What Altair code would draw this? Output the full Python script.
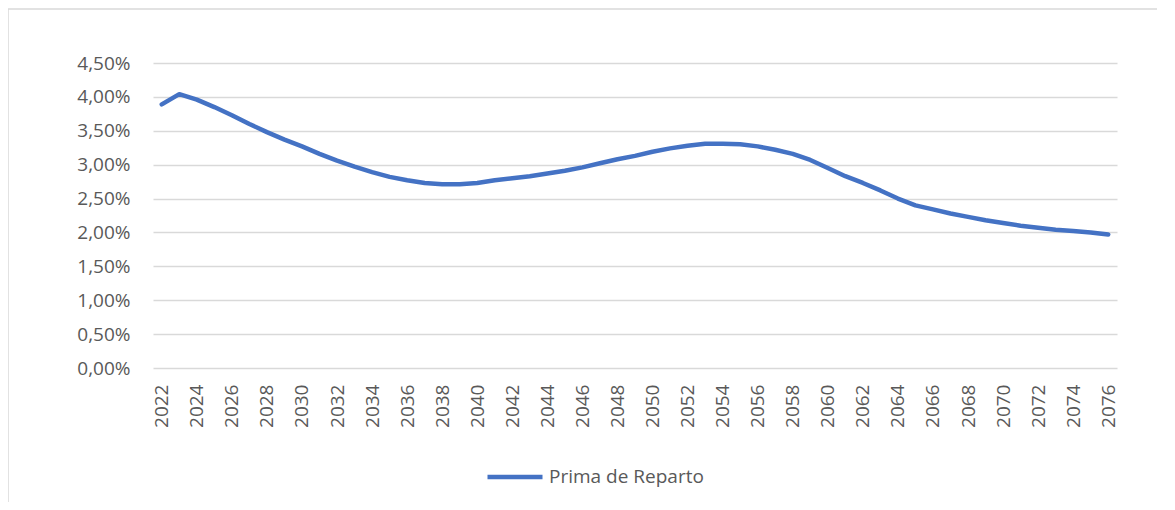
import altair as alt
import pandas as pd

years = list(range(2022, 2077))
prima = [3.89, 4.04, 3.96, 3.85, 3.73, 3.60, 3.48, 3.37, 3.27, 3.16,
         3.06, 2.97, 2.89, 2.82, 2.77, 2.73, 2.71, 2.71, 2.73, 2.77,
         2.80, 2.83, 2.87, 2.91, 2.96, 3.02, 3.08, 3.13, 3.19, 3.24,
         3.28, 3.31, 3.31, 3.30, 3.27, 3.22, 3.16, 3.07, 2.95, 2.83,
         2.73, 2.62, 2.50, 2.40, 2.34, 2.28, 2.23, 2.18, 2.14, 2.10,
         2.07, 2.04, 2.02, 2.00, 1.97]
series_name = "Prima de Reparto"
y_ticks = [0, 0.5, 1, 1.5, 2, 2.5, 3, 3.5, 4, 4.5]
x_ticks = list(range(2022, 2077, 2))

df = pd.DataFrame({"year": years, "value": prima, "series": [series_name] * len(years)})

FONT = "Open Sans"
TXT = "#595959"
GRID = "#d9d9d9"

line = alt.Chart(df).mark_line(
    strokeWidth=4.5, strokeCap="round", strokeJoin="round"
).encode(
    x=alt.X("year:Q", scale=alt.Scale(domain=[2021.5, 2076.5], nice=False, zero=False),
            axis=alt.Axis(values=x_ticks, labelAngle=-90, format="d", title=None,
                          ticks=False, grid=False, domain=False, labelPadding=16,
                          labelFontSize=19, labelColor=TXT, labelFont=FONT)),
    y=alt.Y("value:Q", scale=alt.Scale(domain=[0, 4.5], nice=False),
            axis=alt.Axis(values=y_ticks, title=None, ticks=False, domain=False,
                          gridColor=GRID, gridWidth=1.5, labelPadding=23,
                          labelFontSize=19, labelColor=TXT, labelFont=FONT,
                          labelExpr="replace(format(datum.value, '.2f'), '.', ',') + '%'")),
    color=alt.Color("series:N", scale=alt.Scale(range=["#4472C4"]),
                    legend=alt.Legend(title=None, orient="none", legendX=332, legendY=384,
                                      symbolType="stroke", symbolSize=3025,
                                      symbolStrokeWidth=4.5, labelOffset=4,
                                      labelFontSize=19, labelColor=TXT, labelFont=FONT))
)

frame = alt.Chart(pd.DataFrame({"a": [0]})).mark_rect(
    fill=None, stroke=GRID, strokeWidth=1.5
).encode(
    x=alt.value(-145), x2=alt.value(1400), y=alt.value(-54), y2=alt.value(1000)
)

chart = alt.layer(frame, line).properties(
    width=964, height=305,
    autosize=alt.AutoSizeParams(type="none"),
    padding={"left": 145, "top": 55, "right": 40, "bottom": 134},
).configure_view(stroke=None)

chart.save("out.html", embed_options={"renderer": "svg", "actions": False})
